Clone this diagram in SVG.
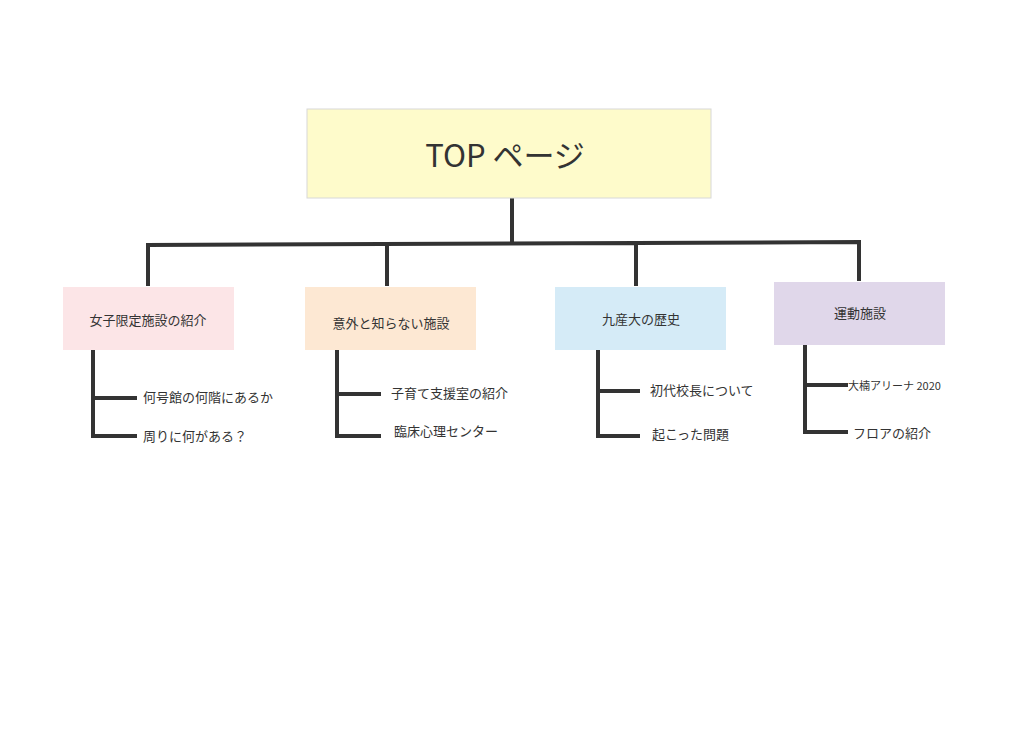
<svg xmlns="http://www.w3.org/2000/svg" width="1024" height="732" viewBox="0 0 1024 732">
<style>
text{font-family:"Noto Sans CJK JP","Noto Sans",sans-serif;fill:#333;}
.c{fill:none;stroke:#333;stroke-width:4;}
.t{font-size:13px;}
.l{font-size:13px;}
</style>
<rect width="1024" height="732" fill="#fff"/>
<g id="connectors">
<path class="c" d="M512 198V242M148 286V245L859 242V281M387 286V244M636 286V243"/>
<path class="c" d="M93 350V436H137M93 398H137"/>
<path class="c" d="M337 350V436H381M337 394H381"/>
<path class="c" d="M598 350V436H640M598 391H640"/>
<path class="c" d="M805 345V432H848M805 385H848"/>
</g>
<g id="top"><rect x="307" y="109" width="404" height="89" fill="#fefbcb" stroke="#d8d8d8"/><text x="505" y="167" font-size="31" text-anchor="middle">TOP ページ</text></g>
<g id="n1"><rect x="63" y="287" width="171" height="63" fill="#fce5e7"/><text class="t" x="148" y="325" text-anchor="middle">女子限定施設の紹介</text></g>
<g id="n2"><rect x="305" y="287" width="171" height="63" fill="#fde8d3"/><text class="t" x="391" y="328" text-anchor="middle">意外と知らない施設</text></g>
<g id="n3"><rect x="555" y="287" width="171" height="63" fill="#d5ebf7"/><text class="t" x="641" y="324" text-anchor="middle">九産大の歴史</text></g>
<g id="n4"><rect x="774" y="282" width="171" height="63" fill="#e0d7ea"/><text class="t" x="860" y="318" text-anchor="middle">運動施設</text></g>
<g id="s1"><text class="l" x="143" y="402">何号館の何階にあるか</text></g>
<g id="s2"><text class="l" x="143" y="441">周りに何がある？</text></g>
<g id="s3"><text class="l" x="391" y="398">子育て支援室の紹介</text></g>
<g id="s4"><text class="l" x="394" y="436">臨床心理センター</text></g>
<g id="s5"><text class="l" x="650" y="395">初代校長について</text></g>
<g id="s6"><text class="l" x="652" y="439">起こった問題</text></g>
<g id="s7"><text x="848" y="390" font-size="11">大楠アリーナ 2020</text></g>
<g id="s8"><text class="l" x="853" y="438">フロアの紹介</text></g>
</svg>
